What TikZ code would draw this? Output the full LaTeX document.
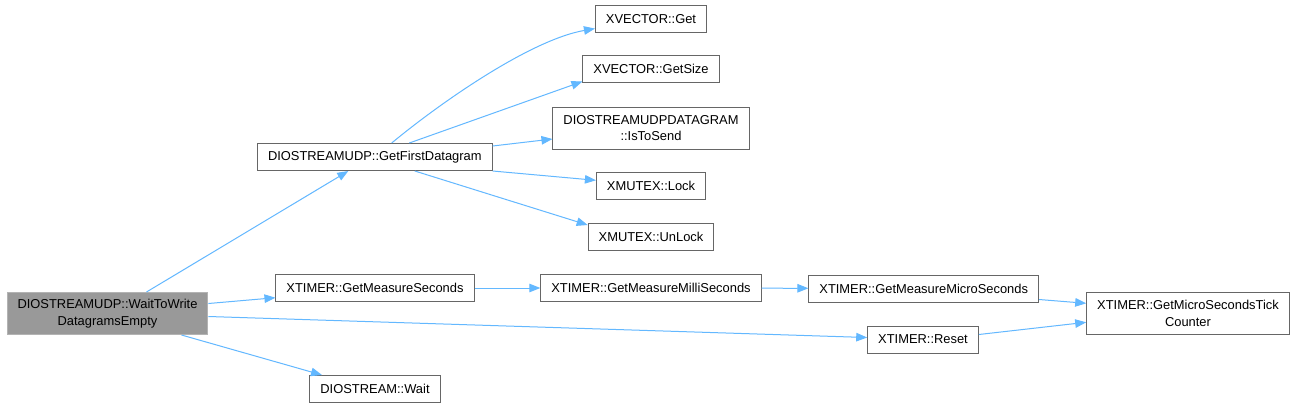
\documentclass[tikz,border=0pt]{standalone}
\usepackage{fontspec}
\setmainfont{Liberation Sans}
\usepackage{xcolor}
\usetikzlibrary{arrows.meta}
\definecolor{edgeblue}{HTML}{63B8FF}
\definecolor{boxline}{HTML}{666666}
\definecolor{rootfill}{HTML}{999999}
\definecolor{rootline}{HTML}{B3B3B3}

\begin{document}
\begin{tikzpicture}[
  x=1pt, y=-1pt,
  box/.style={draw=boxline, line width=1pt, fill=white, align=center,
              minimum height=27pt, inner xsep=10.5pt, inner ysep=3pt,
              font=\fontsize{12.9}{16.5}\selectfont},
  tall/.style={minimum height=42pt},
  arrow/.style={-{Triangle[length=11pt,width=8.5pt]}, edgeblue, line width=1pt}
]
\fill[white] (0,0) rectangle (1295,408);
\node[box, tall, fill=rootfill, draw=rootline] (wtw) at (107.5,313.5) {DIOSTREAMUDP::WaitToWrite\\DatagramsEmpty};
\node[box] (gfd) at (374.8,157) {DIOSTREAMUDP::GetFirstDatagram};
\node[box] (secs) at (375,288) {XTIMER::GetMeasureSeconds};
\node[box] (wait) at (375,389) {DIOSTREAM::Wait};
\node[box] (vget) at (651,18.7) {XVECTOR::Get};
\node[box] (vsize) at (651,69) {XVECTOR::GetSize};
\node[box, tall] (tosend) at (651,128) {DIOSTREAMUDPDATAGRAM\\::IsToSend};
\node[box] (lock) at (651,186.3) {XMUTEX::Lock};
\node[box] (unlock) at (651,237) {XMUTEX::UnLock};
\node[box] (millis) at (651,288) {XTIMER::GetMeasureMilliSeconds};
\node[box] (micros) at (923.7,288.5) {XTIMER::GetMeasureMicroSeconds};
\node[box] (reset) at (923,339.5) {XTIMER::Reset};
\node[box, tall] (ticks) at (1188,313.3) {XTIMER::GetMicroSecondsTick\\Counter};
\draw[arrow] ([xshift=39pt]wtw.north) -- ([xshift=-26.5pt]gfd.south);
\draw[arrow] ([yshift=10pt]wtw.east) -- ([yshift=-9.7pt]secs.west);
\draw[arrow] ([yshift=-3pt]wtw.east) -- ([yshift=2pt]reset.west);
\draw[arrow] ([xshift=74pt]wtw.south) -- ([xshift=-53pt]wait.north);
\draw[arrow] (gfd) .. controls (440,103) and (530,40) .. (vget);
\draw[arrow] ([xshift=34.5pt]gfd.north) -- ([yshift=1.5pt]vsize.south west);
\draw[arrow] ([yshift=11pt]gfd.east) -- ([yshift=-11pt]tosend.west);
\draw[arrow] (gfd.south east) -- ([yshift=6pt]lock.west);
\draw[arrow] ([xshift=40pt]gfd.south) -- ([yshift=-2pt]unlock.north west);
\draw[arrow] (secs) -- (millis);
\draw[arrow] (millis) -- (micros);
\draw[arrow] ([yshift=-11pt]micros.east) -- ([yshift=10pt]ticks.west);
\draw[arrow] ([yshift=5pt]reset.east) -- ([yshift=-9pt]ticks.west);
\end{tikzpicture}
\end{document}
